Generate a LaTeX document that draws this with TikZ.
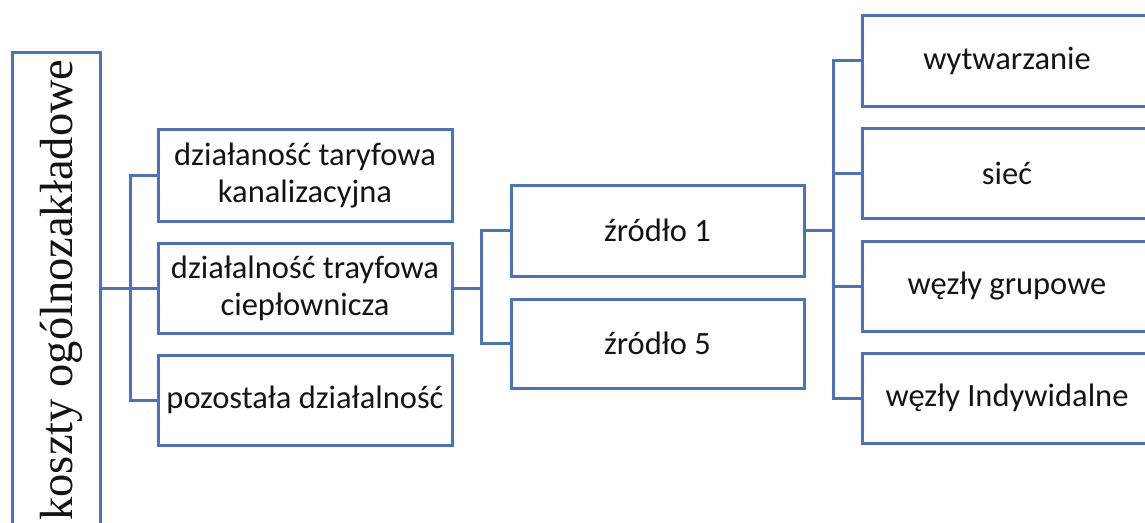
\documentclass[tikz,border=0pt]{standalone}
\usepackage{fontspec}
\setmainfont{Carlito}
\newfontfamily\serifL{Liberation Serif}
\definecolor{bl}{HTML}{4A72BE}
\definecolor{tx}{HTML}{141414}
\tikzset{
  box/.style={draw=bl, line width=3pt, minimum width=294pt, minimum height=90pt,
    inner sep=0pt, align=center, text=tx, font=\fontsize{32.5}{37}\selectfont},
  link/.style={draw=bl, line width=3pt}
}
\begin{document}
\begin{tikzpicture}[x=1pt,y=-1pt]
\useasboundingbox (0,0) rectangle (1145,522);
\clip (0,0) rectangle (1145,522);
\fill[white] (0,0) rectangle (1145,522);
% left tall box
\node[draw=bl, line width=3pt, minimum width=88pt, minimum height=486pt, inner sep=0pt] (L) at (56,295) {};
\node[rotate=90, anchor=base, text=tx, font=\serifL\fontsize{46.5}{50}\selectfont] (Lt) at (72,290) {koszty ogólnozakładowe};
% second column
\node[box, minimum height=92pt] (A1) at (305,175) {działaność taryfowa\\kanalizacyjna};
\node[box] (A2) at (305,288) {działalność trayfowa\\ciepłownicza};
\node[box] (A3) at (305,400) {pozostała działalność};
% third column
\node[box, minimum width=293pt, minimum height=91pt] (B1) at (657.5,230.5) {źródło 1};
\node[box, minimum width=293pt, minimum height=89pt] (B2) at (657.5,343.5) {źródło 5};
% fourth column
\node[box, minimum width=290pt, minimum height=91pt] (C1) at (1007,60.5) {wytwarzanie};
\node[box, minimum width=290pt] (C2) at (1007,173) {sieć};
\node[box, minimum width=290pt] (C3) at (1007,286) {węzły grupowe};
\node[box, minimum width=290pt] (C4) at (1007,398) {węzły Indywidalne};
% junctions
\coordinate (j1) at (130,288);
\coordinate (j2) at (481,288);
\coordinate (j3) at (833,230.5);
% connectors
\draw[link] (A2.west -| L.east) -- (A2.west);
\draw[link] (A1.west) -| (j1) |- (A3.west);
\draw[link] (A2.east) -- (j2);
\draw[link] (B1.west) -| (j2) |- (B2.west);
\draw[link] (B1.east) -- (j3);
\draw[link] (C1.west) -| (j3) |- (C4.west);
\draw[link] (C2.west) -- (C2.west -| j3);
\draw[link] (C3.west) -- (C3.west -| j3);
\end{tikzpicture}
\end{document}
